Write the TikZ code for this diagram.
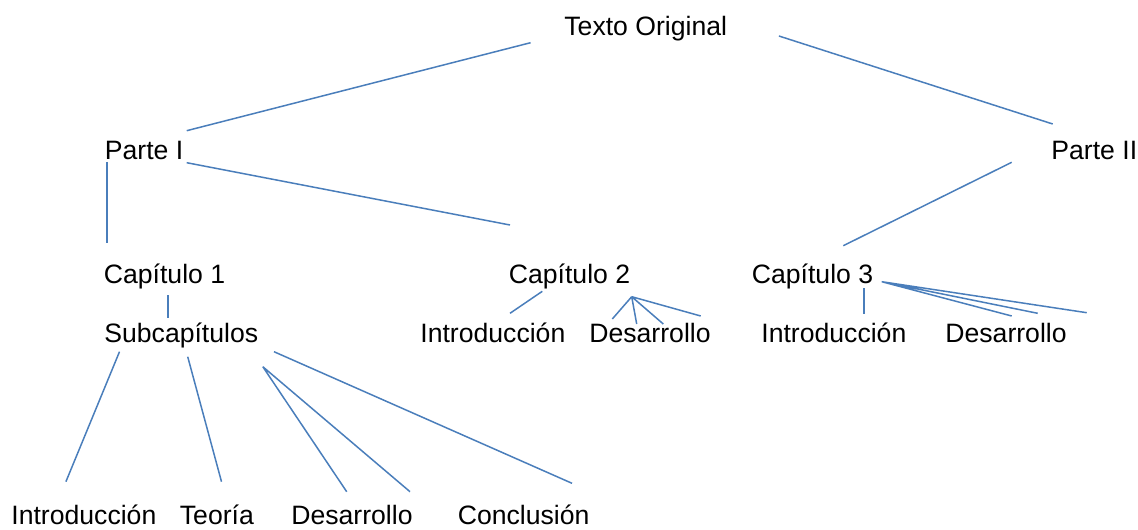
\documentclass[tikz,border=0pt]{standalone}
\usepackage{fontspec}
\setmainfont{Liberation Sans}
\definecolor{linkblue}{HTML}{4A7EBB}
\begin{document}
\begin{tikzpicture}[x=0.5pt,y=-0.5pt,
  lbl/.style={anchor=base west,inner sep=0pt,font=\fontsize{13.3pt}{15pt}\selectfont},
  link/.style={draw=linkblue,line width=0.75pt}]
\useasboundingbox (0,0) rectangle (1138,529);
% texts
\node[lbl] (texto) at (564,36) {Texto Original};
\node[lbl] (parte1) at (104.5,159.5) {Parte I};
\node[lbl] (parte2) at (1051,159.5) {Parte II};
\node[lbl] (cap1) at (103.5,283) {Capítulo 1};
\node[lbl] (cap2) at (508.5,283) {Capítulo 2};
\node[lbl] (cap3) at (751.5,283) {Capítulo 3};
\node[lbl] (subcap) at (104,342) {Subcapítulos};
\node[lbl] (introA) at (420,342) {Introducción};
\node[lbl] (desA) at (589,342) {Desarrollo};
\node[lbl] (introB) at (761,342) {Introducción};
\node[lbl] (desB) at (945,342) {Desarrollo};
\node[lbl] (introC) at (11,524) {Introducción};
\node[lbl] (teoria) at (179.5,524) {Teoría};
\node[lbl] (desC) at (291,524) {Desarrollo};
\node[lbl] (concl) at (457.5,524) {Conclusión};
% connector end points
\coordinate (a1) at (530.6,42.7);  \coordinate (a2) at (186.7,130.7);
\coordinate (b1) at (778.9,36);    \coordinate (b2) at (1052.7,124);
\coordinate (c1) at (1011.7,162.3);\coordinate (c2) at (843.3,245.7);
\coordinate (d1) at (186.7,162.7); \coordinate (d2) at (510,225);
\coordinate (e1) at (107,162);     \coordinate (e2) at (107,243);
\coordinate (f1) at (168,295);     \coordinate (f2) at (168,318);
\coordinate (g1) at (542.3,291.3); \coordinate (g2) at (510,313.3);
\coordinate (h0) at (631.7,296.7);
\coordinate (h1) at (612.3,319);   \coordinate (h2) at (636.7,324);
\coordinate (h3) at (663.3,324);   \coordinate (h4) at (700.7,316);
\coordinate (i1) at (864,288);     \coordinate (i2) at (864,314);
\coordinate (j0) at (881.7,281.7);
\coordinate (j1) at (1011.7,316);  \coordinate (j2) at (1037.7,313.3);
\coordinate (j3) at (1086.7,312.7);
\coordinate (k1) at (119.5,351.7); \coordinate (k2) at (65.9,481.7);
\coordinate (l1) at (187.7,356.7); \coordinate (l2) at (221.5,481.7);
\coordinate (m0) at (262.8,366.7);
\coordinate (m1) at (346.7,491.7); \coordinate (m2) at (410,491.7);
\coordinate (n1) at (274,351.7);   \coordinate (n2) at (572,483.3);
% connectors
\path[link] (a1) -- (a2);
\path[link] (b1) -- (b2);
\path[link] (c1) -- (c2);
\path[link] (d1) -- (d2);
\path[link] (e1) -- (e2);
\path[link] (f1) -- (f2);
\path[link] (g1) -- (g2);
\path[link] (h0) -- (h1) (h0) -- (h2) (h0) -- (h3) (h0) -- (h4);
\path[link] (i1) -- (i2);
\path[link] (j0) -- (j1) (j0) -- (j2) (j0) -- (j3);
\path[link] (k1) -- (k2);
\path[link] (l1) -- (l2);
\path[link] (m0) -- (m1) (m0) -- (m2);
\path[link] (n1) -- (n2);
\end{tikzpicture}
\end{document}
